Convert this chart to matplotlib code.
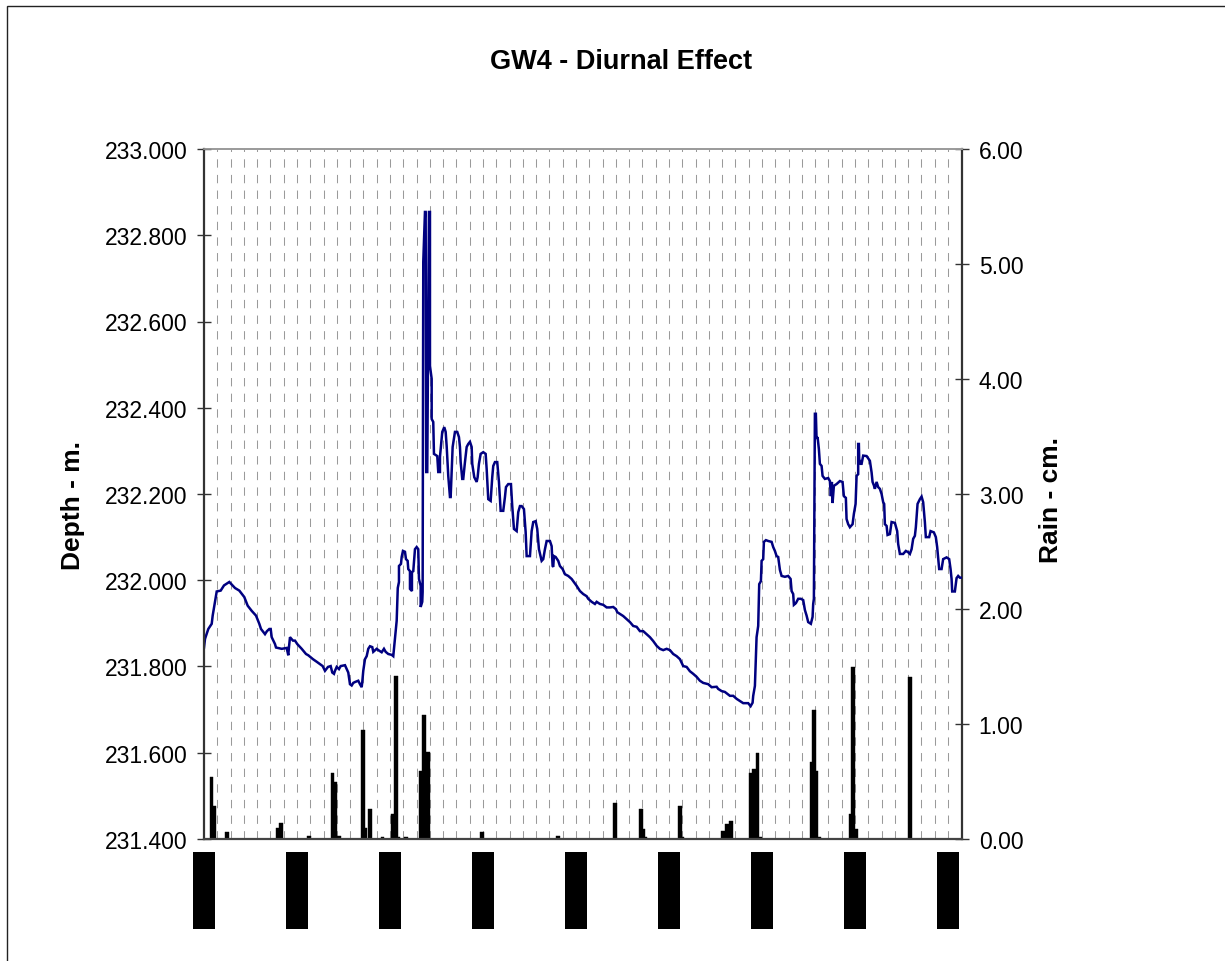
import matplotlib
matplotlib.use("Agg")
import matplotlib.pyplot as plt
import numpy as np
from matplotlib.ticker import FormatStrFormatter
from matplotlib.patches import Rectangle

plt.rcParams['font.family'] = ['Liberation Sans', 'DejaVu Sans']

# ---- data (time in hours from start) ----
hours = [
    0.00, 0.26, 1.11, 1.99, 2.24, 2.84, 3.28, 4.31, 5.16, 6.53,
    8.00, 9.11, 10.40, 11.27, 12.31, 13.42, 14.27, 14.71, 15.74, 16.25,
    16.85, 17.21, 17.47, 18.32, 18.58, 20.05, 21.34, 21.75, 21.93, 22.19,
    22.96, 23.48, 24.07, 25.21, 26.32, 26.91, 28.12, 29.08, 30.62, 31.22,
    31.99, 32.69, 33.10, 33.54, 33.80, 34.24, 34.83, 35.27, 36.38, 36.82,
    37.23, 37.67, 38.11, 38.52, 38.96, 39.81, 40.25, 40.69, 40.84, 41.10,
    41.54, 41.98, 42.39, 42.83, 43.42, 43.68, 44.56, 45.15, 45.85, 46.44,
    46.88, 47.55, 48.43, 48.84, 49.28, 49.72, 50.00, 50.31, 50.31, 50.83,
    51.01, 51.34, 51.86, 52.12, 52.55, 52.71, 53.15, 53.15, 53.66, 53.66,
    54.00, 54.44, 54.88, 55.29, 55.47, 55.91, 55.91, 56.32, 56.42, 56.58,
    57.02, 57.20, 57.35, 57.61, 58.05, 58.31, 58.31, 58.75, 58.75, 59.16,
    59.34, 60.19, 60.45, 60.89, 60.89, 61.48, 62.00, 62.36, 62.62, 63.03,
    63.47, 63.65, 63.91, 64.16, 64.76, 65.35, 65.79, 66.05, 66.23, 66.64,
    66.90, 67.34, 67.78, 68.19, 68.63, 69.07, 69.22, 69.74, 70.36, 70.61,
    70.95, 71.39, 72.06, 72.68, 72.94, 73.35, 73.97, 74.38, 74.64, 75.08,
    75.67, 76.11, 76.55, 77.22, 77.66, 77.92, 78.51, 79.21, 79.54, 79.98,
    80.68, 81.09, 81.53, 81.97, 82.56, 83.00, 83.26, 84.11, 84.55, 84.96,
    85.58, 85.99, 86.43, 87.13, 87.54, 87.98, 88.42, 89.27, 89.71, 89.96,
    90.12, 90.30, 90.74, 91.41, 91.85, 92.54, 93.14, 93.99, 94.87, 95.28,
    96.16, 97.01, 97.86, 98.74, 99.15, 100.03, 100.88, 101.32, 102.17, 103.02,
    103.90, 104.75, 105.60, 106.30, 106.63, 107.33, 108.18, 109.06, 109.91, 110.76,
    111.64, 112.49, 113.34, 114.22, 115.07, 115.92, 116.80, 117.65, 118.50, 119.38,
    120.23, 121.08, 121.96, 122.81, 123.66, 124.54, 125.39, 126.24, 127.12, 127.97,
    128.82, 130.11, 130.99, 132.28, 132.69, 133.57, 134.42, 135.71, 136.56, 137.44,
    138.29, 139.14, 140.43, 141.05, 141.56, 141.72, 142.16, 142.41, 142.59, 143.01,
    143.27, 143.71, 143.89, 144.30, 144.48, 145.00, 145.59, 146.47, 146.88, 147.32,
    147.76, 148.17, 148.61, 149.05, 149.90, 150.75, 151.37, 151.63, 152.04, 152.22,
    152.74, 153.33, 154.02, 154.62, 155.06, 155.50, 155.91, 156.60, 157.04, 157.20,
    157.38, 157.64, 157.89, 158.07, 158.33, 158.67, 158.93, 159.37, 159.62, 160.22,
    161.07, 161.51, 161.76, 162.02, 162.20, 162.54, 163.23, 164.09, 164.78, 165.12,
    165.63, 165.81, 166.23, 166.67, 167.36, 167.70, 168.14, 168.40, 168.81, 168.81,
    168.99, 169.07, 169.43, 169.69, 170.10, 170.98, 171.83, 172.27, 172.52, 172.86,
    173.12, 173.56, 173.97, 174.41, 174.85, 175.26, 175.52, 175.70, 176.14, 176.39,
    176.99, 177.43, 178.28, 178.87, 179.13, 179.57, 180.42, 181.11, 181.71, 182.15,
    182.59, 183.00, 183.44, 183.69, 184.13, 184.73, 185.17, 185.58, 186.02, 186.27,
    187.13, 187.49, 188.34, 188.85, 189.19, 189.71, 190.33, 190.74, 191.62, 192.29,
    192.65, 192.91, 193.07, 193.76, 194.20, 194.61, 195.05, 195.49,
]

depth_m = [
    231.844, 231.864, 231.887, 231.899, 231.918, 231.950, 231.974, 231.976, 231.988, 231.996,
    231.982, 231.976, 231.961, 231.941, 231.929, 231.918, 231.899, 231.887, 231.875, 231.882,
    231.887, 231.887, 231.868, 231.852, 231.844, 231.841, 231.843, 231.826, 231.845, 231.868,
    231.860, 231.860, 231.852, 231.841, 231.829, 231.826, 231.817, 231.811, 231.801, 231.790,
    231.799, 231.801, 231.786, 231.783, 231.790, 231.799, 231.794, 231.801, 231.803, 231.794,
    231.786, 231.759, 231.756, 231.762, 231.764, 231.767, 231.759, 231.752, 231.764, 231.790,
    231.817, 231.824, 231.841, 231.847, 231.845, 231.834, 231.841, 231.837, 231.833, 231.841,
    231.834, 231.829, 231.827, 231.824, 231.864, 231.906, 231.982, 231.996, 232.033, 232.038,
    232.054, 232.068, 232.066, 232.049, 232.045, 232.026, 232.021, 231.980, 231.975, 232.019,
    232.021, 232.072, 232.077, 232.072, 232.003, 231.987, 231.938, 231.950, 231.973, 232.738,
    232.854, 232.854, 232.251, 232.251, 232.854, 232.854, 232.497, 232.467, 232.374, 232.367,
    232.293, 232.288, 232.251, 232.251, 232.286, 232.344, 232.355, 232.344, 232.311, 232.242,
    232.193, 232.193, 232.251, 232.309, 232.344, 232.344, 232.332, 232.309, 232.274, 232.235,
    232.235, 232.274, 232.309, 232.316, 232.321, 232.309, 232.270, 232.239, 232.228, 232.239,
    232.270, 232.293, 232.297, 232.293, 232.258, 232.188, 232.184, 232.239, 232.265, 232.274,
    232.274, 232.228, 232.161, 232.161, 232.193, 232.216, 232.223, 232.223, 232.172, 232.119,
    232.114, 232.158, 232.172, 232.172, 232.165, 232.112, 232.056, 232.056, 232.114, 232.135,
    232.137, 232.119, 232.072, 232.045, 232.049, 232.072, 232.091, 232.091, 232.079, 232.033,
    232.031, 232.056, 232.054, 232.045, 232.033, 232.026, 232.014, 232.010, 232.003, 231.998,
    231.987, 231.975, 231.968, 231.963, 231.957, 231.950, 231.945, 231.950, 231.945, 231.943,
    231.937, 231.937, 231.938, 231.933, 231.926, 231.922, 231.917, 231.910, 231.903, 231.894,
    231.892, 231.882, 231.882, 231.875, 231.868, 231.859, 231.848, 231.841, 231.838, 231.841,
    231.838, 231.829, 231.824, 231.817, 231.801, 231.799, 231.789, 231.783, 231.776, 231.767,
    231.762, 231.759, 231.752, 231.753, 231.748, 231.743, 231.741, 231.732, 231.732, 231.725,
    231.720, 231.715, 231.715, 231.708, 231.716, 231.732, 231.755, 231.817, 231.868, 231.894,
    231.991, 231.998, 232.045, 232.049, 232.089, 232.093, 232.091, 232.089, 232.077, 232.068,
    232.056, 232.054, 232.024, 232.010, 232.008, 232.010, 232.003, 231.975, 231.968, 231.943,
    231.947, 231.957, 231.957, 231.954, 231.931, 231.918, 231.903, 231.899, 231.915, 231.945,
    231.957, 232.386, 232.386, 232.328, 232.332, 232.304, 232.270, 232.265, 232.242, 232.235,
    232.237, 232.230, 232.195, 232.228, 232.179, 232.219, 232.223, 232.230, 232.228, 232.195,
    232.191, 232.142, 232.130, 232.123, 232.130, 232.154, 232.177, 232.242, 232.246, 232.316,
    232.316, 232.281, 232.270, 232.270, 232.289, 232.288, 232.277, 232.250, 232.228, 232.220,
    232.212, 232.228, 232.216, 232.212, 232.200, 232.181, 232.177, 232.130, 232.126, 232.105,
    232.107, 232.135, 232.133, 232.114, 232.084, 232.061, 232.061, 232.068, 232.065, 232.061,
    232.072, 232.096, 232.103, 232.123, 232.177, 232.188, 232.194, 232.181, 232.135, 232.100,
    232.100, 232.114, 232.111, 232.100, 232.077, 232.026, 232.026, 232.049, 232.053, 232.049,
    232.026, 232.003, 231.974, 231.974, 232.005, 232.010, 232.006, 232.006,
]

rain_hours = [
    1.94, 2.71, 5.93, 19.04, 19.92, 27.17, 33.15, 33.93, 34.83, 40.94,
    41.62, 42.75, 46.05, 48.76, 49.46, 50.18, 52.12, 56.06, 56.81, 57.79,
    71.81, 91.41, 105.96, 112.69, 113.31, 113.80, 122.73, 123.30, 133.98, 134.85,
    135.97, 141.12, 141.95, 142.83, 143.40, 156.78, 157.46, 158.07, 158.70, 167.00,
    167.52, 168.20, 182.07,
]
rain_cm = [
    0.54, 0.29, 0.06, 0.10, 0.14, 0.03, 0.57, 0.50, 0.03, 0.95,
    0.10, 0.26, 0.02, 0.22, 1.42, 0.02, 0.02, 0.59, 1.08, 0.76,
    0.06, 0.03, 0.31, 0.26, 0.09, 0.02, 0.29, 0.02, 0.07, 0.13,
    0.16, 0.57, 0.61, 0.75, 0.02, 0.67, 1.12, 0.59, 0.02, 0.22,
    1.50, 0.09, 1.41,
]

night_hours = [0, 24, 48, 72, 96, 120, 144, 168, 192]
night_len_h = 5.75

depth_ticks = [231.4, 231.6, 231.8, 232.0, 232.2, 232.4, 232.6, 232.8, 233.0]
rain_ticks = [0, 1, 2, 3, 4, 5, 6]
grid_step_h = 24 / 7
x_max_h = 195.6

# ---- figure ----
W, H = 1225, 962
fig = plt.figure(figsize=(W / 100, H / 100), dpi=100)
rect = [204 / W, 1 - 840 / H, (962 - 204) / W, (840 - 150) / H]

# grid layer (bottom)
axg = fig.add_axes(rect, zorder=0)
axg.set_xlim(0, x_max_h)
axg.set_xticks(np.arange(1, 57) * grid_step_h)
axg.set_yticks([])
axg.tick_params(axis='x', length=0, labelbottom=False)
axg.grid(axis='x', color='#9a9a9a', lw=0.75, linestyle=(0, (8, 7)))
for s in axg.spines.values():
    s.set_visible(False)

# main axes (depth line, top) and rain axes (bars, middle)
ax = fig.add_axes(rect, zorder=2)
ax2 = ax.twinx()
ax2.set_zorder(1)
ax.patch.set_visible(False)
ax2.patch.set_visible(False)

ax2.bar(rain_hours, rain_cm, width=1.0, color='black', edgecolor='black',
        linewidth=0.3, align='center')
ax.plot(hours, depth_m, color='#000080', lw=1.8, solid_joinstyle='miter')

ax.set_xlim(0, x_max_h)
ax.set_ylim(231.4, 233.0)
ax2.set_ylim(0, 6)

ax.set_xticks([])
ax.tick_params(axis='x', length=0, labelbottom=False)

ax.set_yticks(depth_ticks)
ax.yaxis.set_major_formatter(FormatStrFormatter('%.3f'))
ax.tick_params(axis='y', direction='inout', length=10, width=1.0, color='#333333',
               labelsize=16.5, pad=7)
ax2.set_yticks(rain_ticks)
ax2.yaxis.set_major_formatter(FormatStrFormatter('%.2f'))
ax2.tick_params(axis='y', direction='inout', length=10, width=1.0, color='#333333',
                labelsize=16.5, pad=7)

for a in (ax, ax2):
    a.spines['top'].set_color('#9a9a9a')
    a.spines['top'].set_linewidth(1.2)
ax.spines['left'].set_color('#333333')
ax.spines['left'].set_linewidth(1.6)
ax.spines['bottom'].set_color('#444444')
ax.spines['bottom'].set_linewidth(1.6)
ax.spines['right'].set_visible(False)
ax2.spines['left'].set_visible(False)
ax2.spines['bottom'].set_visible(False)
ax2.spines['right'].set_color('#333333')
ax2.spines['right'].set_linewidth(1.6)

# night bars below the plot
axn = fig.add_axes([204 / W, 1 - 930 / H, (962 - 204) / W, (930 - 853) / H])
axn.set_xlim(0, x_max_h)
axn.set_ylim(0, 1)
axn.bar(night_hours, [1] * len(night_hours), width=night_len_h, color='black',
        clip_on=False)
axn.axis('off')

# texts
fig.text(0.507, 1 - 62 / H, 'GW4 - Diurnal Effect', ha='center', va='center',
         fontsize=19.5, fontweight='bold')
fig.text(73 / W, 1 - 505 / H, 'Depth - m.', rotation=90, ha='center', va='center',
         fontsize=19, fontweight='bold')
fig.text(1051 / W, 1 - 500 / H, 'Rain - cm.', rotation=90, ha='center', va='center',
         fontsize=19, fontweight='bold')

# chart-area border (left and top edges visible)
fig.patches.append(Rectangle((7 / W, -0.5), 2.0, 1.5 - 7 / H, transform=fig.transFigure,
                             fill=False, edgecolor='#222222', lw=1.0))

fig.savefig('out.png', dpi=100)
